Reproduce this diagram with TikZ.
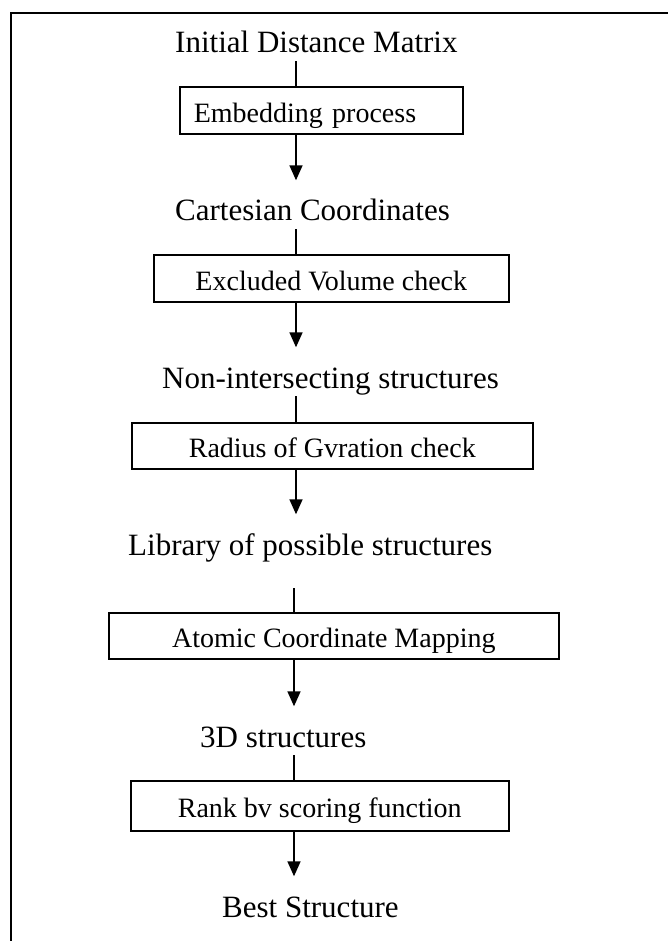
\documentclass[tikz,border=0pt]{standalone}
\usepackage{fontspec}
\setmainfont{Liberation Serif}
\usetikzlibrary{arrows.meta}
\begin{document}
\begin{tikzpicture}[x=1pt,y=-1pt,
  lbl/.style={inner sep=0pt, anchor=base west, font=\fontsize{31}{36}\selectfont, text height=20.5pt, text depth=8pt},
  boxnode/.style={draw, line width=1.6pt, inner sep=0pt, anchor=north west, font=\fontsize{28}{32}\selectfont, text height=24pt, text depth=0pt},
  conn/.style={line width=1.6pt},
  arr/.style={line width=1.6pt, -{Triangle[length=15pt,width=13pt]}, shorten >=20pt},
  frame/.style={line width=2.4pt}]
\useasboundingbox (0,0) rectangle (668,941);
\fill[white] (0,0) rectangle (668,941);
% frame
\coordinate (ftr) at (668,13);
\coordinate (ftl) at (11,13);
\coordinate (fbl) at (11,941);
\draw[frame] (ftr) -- (ftl) -- (fbl);
% spines
\coordinate (spineA) at (296,0);
\coordinate (spineB) at (294,0);
% labels
\node[lbl] (lab1) at (175,53) {Initial Distance Matrix};
\node[lbl] (lab2) at (175,221) {Cartesian Coordinates};
\node[lbl] (lab3) at (162,388) {Non-intersecting structures};
\node[lbl] (lab4) at (128,555) {Library of possible structures};
\node[lbl] (lab5) at (200,747) {3D structures};
\node[lbl] (lab6) at (222,917) {Best Structure};
% boxes
\node[boxnode, minimum height=47pt, inner xsep=14pt, text width=255pt, align=left] (box1) at (179,86) {Embedding process};
\node[boxnode, minimum width=355pt, minimum height=47pt] (box2) at (153,254) {Excluded Volume check};
\node[boxnode, minimum width=401pt, minimum height=46pt] (box3) at (131,422) {Radius of Gvration check};
\node[boxnode, minimum width=450pt, minimum height=46pt] (box4) at (108,612) {Atomic Coordinate Mapping};
\node[boxnode, minimum width=378pt, minimum height=50pt] (box5) at (130,780) {Rank bv scoring function};
% connectors
\draw[conn] (lab1.south -| spineA) -- (box1.north -| spineA);
\draw[arr] (box1.south -| spineA) -- (lab2.north -| spineA);
\draw[conn] (lab2.south -| spineA) -- (box2.north -| spineA);
\draw[arr] (box2.south -| spineA) -- (lab3.north -| spineA);
\draw[conn] (lab3.south -| spineA) -- (box3.north -| spineA);
\draw[arr] (box3.south -| spineA) -- (lab4.north -| spineA);
\draw[conn] ([yshift=-25pt]lab4.south -| spineB) -- (box4.north -| spineB);
\draw[arr] (box4.south -| spineB) -- (lab5.north -| spineB);
\draw[conn] (lab5.south -| spineB) -- (box5.north -| spineB);
\draw[arr] (box5.south -| spineB) -- (lab6.north -| spineB);
\end{tikzpicture}
\end{document}
